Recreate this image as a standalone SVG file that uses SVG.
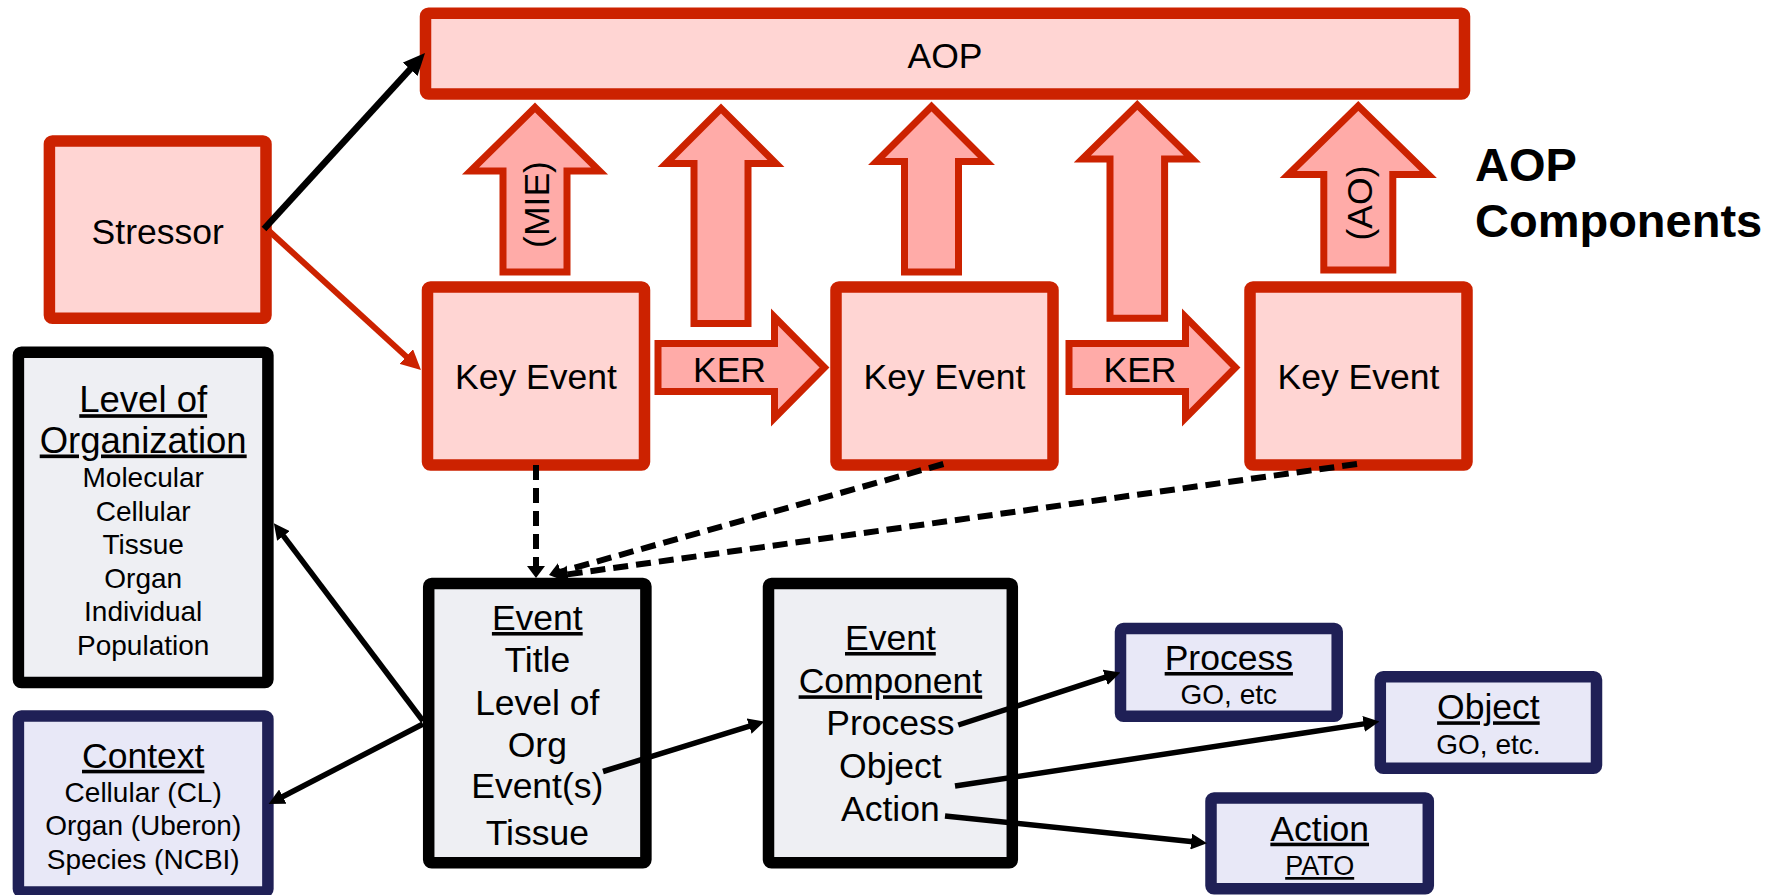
<svg xmlns="http://www.w3.org/2000/svg" width="1776" height="895" viewBox="0 0 1776 895">
  <defs>
    <style>
      text { font-family: "Liberation Sans", Arial, sans-serif; fill: #000; }
      .big { font-size: 35.5px; text-anchor: middle; }
      .mid { font-size: 28px; text-anchor: middle; }
      .u { text-decoration: underline; }
      .title { font-size: 47px; font-weight: bold; }
      .red { fill: #FFD5D3; stroke: #CC2200; stroke-width: 11.5; }
      .blk { fill: #EEEFF3; stroke: #000; stroke-width: 11.5; }
      .navy { fill: #E8E8F7; stroke: #1F2056; stroke-width: 11.5; }
      .barrow { fill: #FFABA8; stroke: #CC2200; stroke-width: 7; stroke-linejoin: miter; stroke-miterlimit: 10; }
      .ln { stroke: #000; stroke-width: 5.5; fill: none; }
      .dash { stroke: #000; stroke-width: 6; fill: none; stroke-dasharray: 15 8; }
    </style>
    <marker id="ah" markerUnits="userSpaceOnUse" viewBox="0 0 16 16" markerWidth="16" markerHeight="16" refX="2" refY="8" orient="auto">
      <path d="M0,0 L16,8 L0,16 z" fill="#000"/>
    </marker>
    <marker id="ahL" markerUnits="userSpaceOnUse" viewBox="0 0 22 20" markerWidth="22" markerHeight="20" refX="2" refY="10" orient="auto">
      <path d="M0,0 L22,10 L0,20 z" fill="#000"/>
    </marker>
    <marker id="ahR" markerUnits="userSpaceOnUse" viewBox="0 0 20 20" markerWidth="20" markerHeight="20" refX="2" refY="10" orient="auto">
      <path d="M0,0 L20,10 L0,20 z" fill="#CC2200"/>
    </marker>
    <marker id="ahD" markerUnits="userSpaceOnUse" viewBox="0 0 12 18" markerWidth="12" markerHeight="18" refX="2" refY="9" orient="auto">
      <path d="M0,0 L12,9 L0,18 z" fill="#000"/>
    </marker>
  </defs>

  <!-- AOP bar -->
  <g id="aop">
    <rect class="red" x="425.5" y="13.3" width="1039" height="80.7" rx="3"/>
    <text class="big" x="945" y="67.7">AOP</text>
  </g>

  <!-- block arrows from key events up to the AOP -->
  <g id="mie-arrow">
    <polygon class="barrow" points="535,107.5 599.5,171 567,171 567,272 503,272 503,171 470.5,171"/>
    <text class="big" transform="translate(549,204.5) rotate(-90)" x="0" y="0">(MIE)</text>
  </g>
  <g id="ker1-up">
    <polygon class="barrow" points="721,108.5 776,163.5 748,163.5 748,323.5 694,323.5 694,163.5 666,163.5"/>
  </g>
  <g id="ke2-up">
    <polygon class="barrow" points="931.5,106.5 986.5,161.5 958.5,161.5 958.5,272 904.5,272 904.5,161.5 876.5,161.5"/>
  </g>
  <g id="ker2-up">
    <polygon class="barrow" points="1137.3,105 1192.3,159 1164.6,159 1164.6,318.3 1110,318.3 1110,159 1082.3,159"/>
  </g>
  <g id="ao-arrow">
    <polygon class="barrow" points="1358.3,106 1428.3,174.5 1392.8,174.5 1392.8,270 1323.8,270 1323.8,174.5 1288.3,174.5"/>
    <text class="big" transform="translate(1372,203) rotate(-90)" x="0" y="0">(AO)</text>
  </g>

  <!-- title -->
  <g id="heading">
    <text class="title" x="1475" y="181">AOP</text>
    <text class="title" x="1475" y="237.3">Components</text>
  </g>

  <!-- stressor -->
  <g id="stressor">
    <rect class="red" x="49.4" y="141" width="216.6" height="177.3" rx="3"/>
    <text class="big" x="157.7" y="244.3">Stressor</text>
  </g>

  <!-- key events -->
  <g id="ke1">
    <rect class="red" x="427.5" y="287" width="217" height="178" rx="3"/>
    <text class="big" x="536" y="389">Key Event</text>
  </g>
  <g id="ke2">
    <rect class="red" x="836" y="287" width="217" height="178" rx="3"/>
    <text class="big" x="944.5" y="389">Key Event</text>
  </g>
  <g id="ke3">
    <rect class="red" x="1250" y="287" width="217" height="178" rx="3"/>
    <text class="big" x="1358.5" y="389">Key Event</text>
  </g>

  <!-- key event relationships -->
  <g id="ker1">
    <polygon class="barrow" points="658,343.5 774.5,343.5 774.5,317 824.5,367.5 774.5,418 774.5,391.5 658,391.5"/>
    <text class="big" x="729.5" y="382">KER</text>
  </g>
  <g id="ker2">
    <polygon class="barrow" points="1069,343.5 1185.5,343.5 1185.5,317 1235.5,367.5 1185.5,418 1185.5,391.5 1069,391.5"/>
    <text class="big" x="1140" y="382">KER</text>
  </g>

  <!-- level of organization -->
  <g id="level-of-organization">
    <rect class="blk" x="18.4" y="352.2" width="249.5" height="330.4" rx="3"/>
    <text class="big u" x="143.2" y="412.2" style="font-size:36.5px">Level of</text>
    <text class="big u" x="143.2" y="452.5" style="font-size:36.5px">Organization</text>
    <text class="mid" x="143.2" y="487">Molecular</text>
    <text class="mid" x="143.2" y="520.5">Cellular</text>
    <text class="mid" x="143.2" y="554">Tissue</text>
    <text class="mid" x="143.2" y="587.5">Organ</text>
    <text class="mid" x="143.2" y="621">Individual</text>
    <text class="mid" x="143.2" y="654.5">Population</text>
  </g>

  <!-- context -->
  <g id="context">
    <rect class="navy" x="18.4" y="716" width="249.5" height="176" rx="3"/>
    <text class="big u" x="143.2" y="767.8">Context</text>
    <text class="mid" x="143.2" y="802">Cellular (CL)</text>
    <text class="mid" x="143.2" y="834.5">Organ (Uberon)</text>
    <text class="mid" x="143.2" y="868.7">Species (NCBI)</text>
  </g>

  <!-- event -->
  <g id="event">
    <rect class="blk" x="428.7" y="583.5" width="217.2" height="279.3" rx="3"/>
    <text class="big u" x="537.3" y="630">Event</text>
    <text class="big" x="537.3" y="671.7">Title</text>
    <text class="big" x="537.3" y="715">Level of</text>
    <text class="big" x="537.3" y="756.7">Org</text>
    <text class="big" x="537.3" y="798.3">Event(s)</text>
    <text class="big" x="537.3" y="845">Tissue</text>
  </g>

  <!-- event component -->
  <g id="event-component">
    <rect class="blk" x="768.5" y="583.5" width="243.8" height="279.3" rx="3"/>
    <text class="big u" x="890.4" y="650">Event</text>
    <text class="big u" x="890.4" y="693.3">Component</text>
    <text class="big" x="890.4" y="735">Process</text>
    <text class="big" x="890.4" y="778.3">Object</text>
    <text class="big" x="890.4" y="820.7">Action</text>
  </g>

  <!-- ontology boxes -->
  <g id="process">
    <rect class="navy" x="1120.5" y="628.5" width="216.7" height="87.8" rx="3"/>
    <text class="big u" x="1228.8" y="670">Process</text>
    <text class="mid" x="1228.8" y="704">GO, etc</text>
  </g>
  <g id="object">
    <rect class="navy" x="1380.3" y="676.8" width="216.2" height="91.5" rx="3"/>
    <text class="big u" x="1488.4" y="719.3">Object</text>
    <text class="mid" x="1488.4" y="754">GO, etc.</text>
  </g>
  <g id="action">
    <rect class="navy" x="1211" y="798" width="217.3" height="90.8" rx="3"/>
    <text class="big u" x="1319.7" y="840.7">Action</text>
    <text class="mid u" x="1319.7" y="875" style="font-size:27px">PATO</text>
  </g>

  <!-- connectors -->
  <g id="connectors">
    <line x1="264" y1="229" x2="411.5" y2="67.8" stroke="#000" stroke-width="6.5" marker-end="url(#ahL)"/>
    <line x1="268" y1="230" x2="407.7" y2="357.9" stroke="#CC2200" stroke-width="6" marker-end="url(#ahR)"/>

    <line class="dash" x1="536" y1="465" x2="536" y2="568" marker-end="url(#ahD)"/>
    <line class="dash" x1="943.4" y1="464" x2="558.6" y2="572.3" marker-end="url(#ahD)"/>
    <line class="dash" x1="1357" y1="464" x2="565.9" y2="574.6" marker-end="url(#ahD)"/>

    <line class="ln" x1="423" y1="721" x2="282.3" y2="534.4" marker-end="url(#ah)"/>
    <line class="ln" x1="423" y1="724" x2="281" y2="797.5" marker-end="url(#ah)"/>
    <line class="ln" x1="603" y1="771.5" x2="751.1" y2="725.6" marker-end="url(#ah)"/>
    <line class="ln" x1="958.3" y1="725" x2="1107.1" y2="676.7" marker-end="url(#ah)"/>
    <line class="ln" x1="955" y1="786" x2="1365.6" y2="723.6" marker-end="url(#ah)"/>
    <line class="ln" x1="945" y1="816" x2="1193.1" y2="841.7" marker-end="url(#ah)"/>
  </g>
</svg>
